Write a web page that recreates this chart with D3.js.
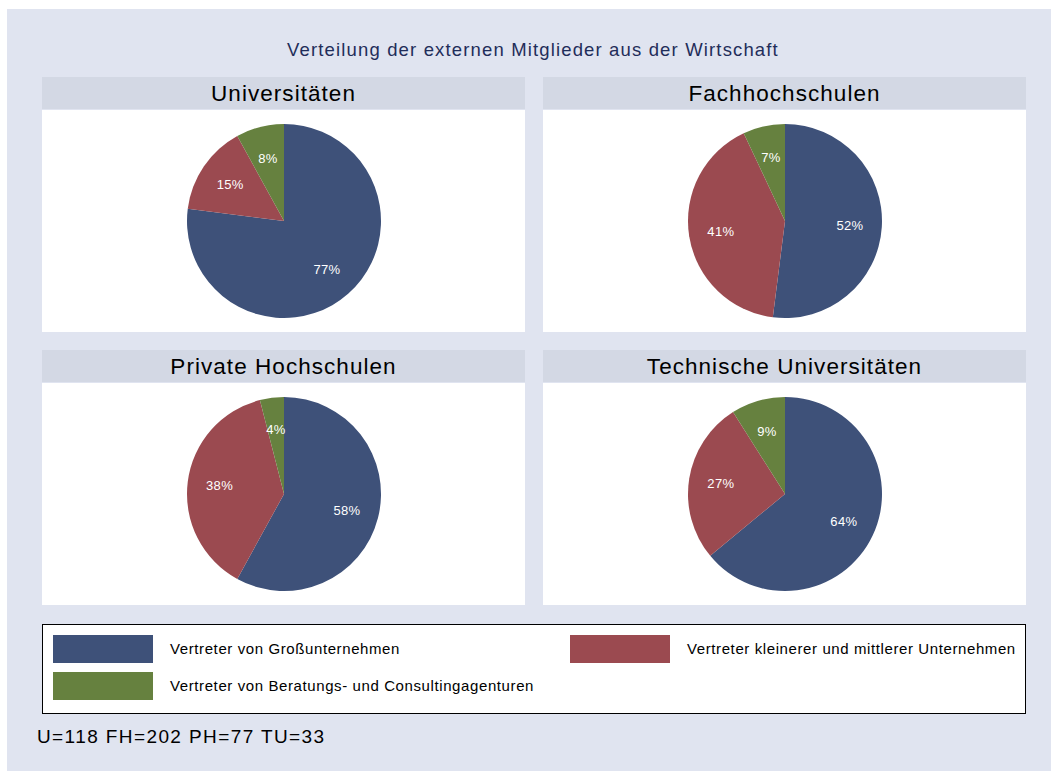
<!DOCTYPE html>
<html><head><meta charset="utf-8">
<script src="https://cdn.jsdelivr.net/npm/d3@7"></script>
<style>body{margin:0;background:#fff;}svg{display:block;font-family:"Liberation Sans",Arial,sans-serif;}</style>
</head><body><svg id="c" width="1051" height="771"></svg>
<script>
const title = "Verteilung der externen Mitglieder aus der Wirtschaft";
const panels = ["Universitäten", "Fachhochschulen", "Private Hochschulen", "Technische Universitäten"];
const categories = ["Vertreter von Großunternehmen", "Vertreter kleinerer und mittlerer Unternehmen", "Vertreter von Beratungs- und Consultingagenturen"];
const grossValues = [77, 52, 58, 64];
const kmuValues = [15, 41, 38, 27];
const beratungValues = [8, 7, 4, 9];
const colors = ["#3e5179", "#9b4a50", "#66813f"];
const note = "U=118 FH=202 PH=77 TU=33";

const svg = d3.select("#c");
svg.append("rect").attr("x", 7).attr("y", 9).attr("width", 1044).attr("height", 762).attr("fill", "#e0e4f0");
svg.append("text").attr("x", 533).attr("y", 56).attr("text-anchor", "middle").attr("font-size", 18.5)
  .attr("letter-spacing", 1.15).attr("fill", "#1f2d5a").text(title);

const cols = [[42, 525], [543, 1026]];
const rows = [[77, 332], [350, 605]];
const pie = d3.pie().sort(null).value(d => d);
panels.forEach((p, i) => {
  const [x0, x1] = cols[i % 2];
  const [y0, y1] = rows[Math.floor(i / 2)];
  const g = svg.append("g");
  g.append("rect").attr("x", x0).attr("y", y0).attr("width", x1 - x0).attr("height", 32).attr("fill", "#d3d8e4");
  g.append("rect").attr("x", x0).attr("y", y0 + 33).attr("width", x1 - x0).attr("height", y1 - y0 - 33).attr("fill", "#ffffff");
  g.append("text").attr("x", (x0 + x1) / 2).attr("y", y0 + 24).attr("text-anchor", "middle").attr("font-size", 22.5)
    .attr("letter-spacing", 1.05).attr("fill", "#000").text(p);
  const cx = (x0 + x1) / 2 + 0.5, cy = y0 + 144;
  const R = 97;
  const vals = [grossValues[i], kmuValues[i], beratungValues[i]];
  const arcs = pie(vals);
  const arc = d3.arc().innerRadius(0).outerRadius(R);
  const lab = d3.arc().innerRadius(R * 0.67).outerRadius(R * 0.67);
  const pg = g.append("g").attr("transform", `translate(${cx},${cy})`);
  pg.selectAll("path").data(arcs).join("path").attr("d", arc).attr("fill", (d, j) => colors[j]);
  pg.selectAll("text").data(arcs).join("text")
    .attr("transform", d => `translate(${lab.centroid(d)})`)
    .attr("text-anchor", "middle").attr("dy", "0.35em").attr("font-size", 13).attr("letter-spacing", 0.3).attr("fill", "#fff")
    .text(d => d.data + "%");
});

// legend
svg.append("rect").attr("x", 42.5).attr("y", 624.5).attr("width", 983).attr("height", 89).attr("fill", "#fff").attr("stroke", "#000").attr("stroke-width", 1);
const legPos = [[53, 635], [570, 635], [53, 672]];
categories.forEach((c, j) => {
  const [lx, ly] = legPos[j];
  svg.append("rect").attr("x", lx).attr("y", ly).attr("width", 100).attr("height", 28).attr("fill", colors[j]);
  svg.append("text").attr("x", lx + 117).attr("y", ly + 19).attr("font-size", 15).attr("letter-spacing", 0.6).attr("fill", "#000").text(c);
});
svg.append("text").attr("x", 37).attr("y", 743).attr("font-size", 19).attr("letter-spacing", 1.4).attr("fill", "#000").text(note);
</script></body></html>
